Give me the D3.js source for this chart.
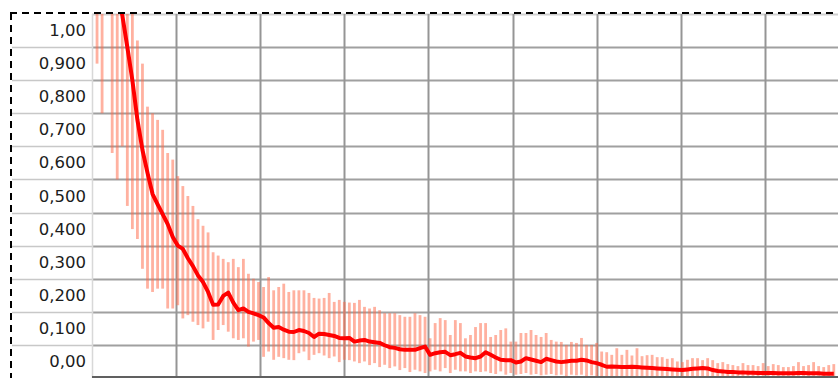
<!DOCTYPE html>
<html>
<head>
<meta charset="utf-8">
<script src="https://cdn.jsdelivr.net/npm/d3@7"></script>
<style>
html,body{margin:0;padding:0;background:#fff;overflow:hidden;}
svg{display:block;}
</style>
</head>
<body>
<svg id="chart" width="838" height="378"></svg>
<script>
// ---- data ----
const sampleStep = 0.06;
const meanValues = [
1.45,1.40,1.35,1.28,1.15,1.097,1.00,0.90,0.78,0.689,
0.62,0.556,0.525,0.495,0.465,0.426,0.40,0.39,0.362,0.338,
0.31,0.29,0.26,0.221,0.222,0.248,0.258,0.228,0.205,0.21,
0.20,0.195,0.19,0.183,0.166,0.152,0.154,0.146,0.14,0.139,
0.145,0.142,0.136,0.124,0.134,0.133,0.13,0.127,0.121,0.12,
0.121,0.11,0.113,0.115,0.11,0.108,0.106,0.099,0.093,0.091,
0.087,0.085,0.085,0.085,0.09,0.095,0.07,0.075,0.078,0.079,
0.069,0.072,0.076,0.065,0.062,0.06,0.065,0.078,0.07,0.062,
0.055,0.054,0.054,0.047,0.05,0.06,0.056,0.052,0.048,0.058,
0.054,0.05,0.048,0.05,0.052,0.052,0.055,0.053,0.048,0.045,
0.04,0.034,0.035,0.034,0.033,0.033,0.034,0.033,0.032,0.031,
0.03,0.029,0.028,0.027,0.026,0.025,0.024,0.026,0.028,0.029,
0.03,0.029,0.024,0.021,0.02,0.018,0.018,0.017,0.017,0.016,
0.016,0.015,0.015,0.015,0.015,0.014,0.014,0.014,0.014,0.015,
0.015,0.014,0.014,0.014,0.013,0.013,0.013
];
const upperValues = [
1.7,1.6,1.6,1.5,1.4,1.35,1.25,1.15,1.02,0.95,
0.82,0.80,0.78,0.75,0.68,0.66,0.61,0.58,0.55,0.52,
0.48,0.46,0.44,0.38,0.37,0.36,0.35,0.36,0.335,0.36,
0.315,0.30,0.29,0.275,0.305,0.265,0.275,0.285,0.26,0.265,
0.265,0.265,0.257,0.242,0.24,0.242,0.257,0.23,0.236,0.23,
0.228,0.227,0.236,0.215,0.21,0.215,0.205,0.196,0.196,0.196,
0.19,0.185,0.185,0.196,0.19,0.185,0.12,0.166,0.181,0.175,
0.13,0.175,0.166,0.12,0.13,0.154,0.166,0.166,0.124,0.13,
0.145,0.15,0.11,0.11,0.136,0.136,0.145,0.13,0.124,0.136,
0.115,0.11,0.109,0.10,0.109,0.106,0.121,0.10,0.10,0.106,
0.08,0.078,0.07,0.09,0.07,0.085,0.068,0.09,0.066,0.069,
0.07,0.063,0.063,0.058,0.06,0.05,0.048,0.055,0.06,0.06,
0.054,0.06,0.054,0.045,0.048,0.042,0.039,0.036,0.045,0.039,
0.039,0.036,0.045,0.036,0.042,0.039,0.033,0.033,0.036,0.048,
0.036,0.039,0.048,0.036,0.033,0.039,0.042
];
const lowerValues = [
0.95,0.80,1.13,0.68,0.60,0.70,0.52,0.45,0.42,0.33,
0.27,0.26,0.27,0.27,0.21,0.21,0.22,0.18,0.19,0.17,
0.16,0.15,0.17,0.115,0.145,0.16,0.14,0.12,0.115,0.12,
0.095,0.11,0.115,0.064,0.08,0.055,0.064,0.06,0.055,0.054,
0.075,0.08,0.054,0.07,0.075,0.068,0.06,0.065,0.048,0.055,
0.054,0.05,0.045,0.05,0.039,0.045,0.033,0.04,0.03,0.035,
0.024,0.03,0.018,0.025,0.02,0.015,0.02,0.025,0.02,0.03,
0.015,0.025,0.02,0.02,0.015,0.02,0.018,0.02,0.015,0.012,
0.02,0.01,0.015,0.01,0.012,0.015,0.01,0.012,0.008,0.01,
0.012,0.008,0.01,0.006,0.01,0.008,0.01,0.006,0.008,0.005,
0.006,0.004,0.005,0.004,0.005,0.004,0.004,0.003,0.004,0.003,
0.003,0.003,0.002,0.003,0.002,0.002,0.002,0.002,0.002,0.002,
0.002,0.002,0.002,0.002,0.001,0.001,0.001,0.001,0.001,0.001,
0.001,0.001,0.001,0.001,0.001,0.001,0.001,0.001,0.001,0.001,
0.001,0.001,0.001,0.001,0.001,0.001,0.001
];
const yTickValues = [1.0,0.9,0.8,0.7,0.6,0.5,0.4,0.3,0.2,0.1,0.0];
const yTickLabels = ["1,00","0,900","0,800","0,700","0,600","0,500","0,400","0,300","0,200","0,100","0,00"];
const xGridValues = [1,2,3,4,5,6,7,8];

// ---- layout ----
const W = 838, H = 378;
const outerLeft = 10, outerTop = 13;
const plotLeft = 92, plotTop = 14, plotBottom = 378, plotRight = 838;

const svg = d3.select("#chart");
const x = d3.scaleLinear().domain([0, 8.87]).range([plotLeft, plotRight]);
const y = d3.scaleLinear().domain([0, 1.1]).range([plotBottom, plotTop]);

const data = meanValues.map((m, i) => ({
  x: (i + 1) * sampleStep, m, hi: upperValues[i], lo: lowerValues[i]
}));

svg.append("defs").append("clipPath").attr("id", "plotclip")
  .append("rect").attr("x", plotLeft).attr("y", plotTop)
  .attr("width", plotRight - plotLeft).attr("height", plotBottom - plotTop);

// horizontal gridlines (across label column too)
const gridH = svg.append("g");
gridH.selectAll("line.lab").data(yTickValues.slice(0, 10)).join("line")
  .attr("x1", outerLeft + 2).attr("x2", plotLeft)
  .attr("y1", d => Math.round(y(d)) + 0.5).attr("y2", d => Math.round(y(d)) + 0.5)
  .attr("stroke", "#c8c8c8").attr("stroke-width", 1.5);
gridH.selectAll("line.plot").data(yTickValues.slice(0, 10).concat([1.1])).join("line")
  .attr("x1", plotLeft).attr("x2", plotRight)
  .attr("y1", d => Math.round(y(d)) + 0.5).attr("y2", d => Math.round(y(d)) + 0.5)
  .attr("stroke", d => d === 1.1 ? "#d0d0d0" : "#a0a0a0").attr("stroke-width", 1.8);

// vertical gridlines
svg.append("g").selectAll("line").data(xGridValues).join("line")
  .attr("x1", d => Math.round(x(d)) + 0.5).attr("x2", d => Math.round(x(d)) + 0.5)
  .attr("y1", plotTop).attr("y2", plotBottom)
  .attr("stroke", "#959595").attr("stroke-width", 2);

// plot left border
svg.append("line").attr("x1", plotLeft + 0.5).attr("x2", plotLeft + 0.5)
  .attr("y1", plotTop).attr("y2", plotBottom)
  .attr("stroke", "#d8d8d8").attr("stroke-width", 1.5);

const plot = svg.append("g").attr("clip-path", "url(#plotclip)");

// error bars
plot.append("g").selectAll("line").data(data).join("line")
  .attr("x1", d => x(d.x)).attr("x2", d => x(d.x))
  .attr("y1", d => y(d.lo)).attr("y2", d => y(d.hi))
  .attr("stroke", "#ff6a48").attr("stroke-opacity", 0.52).attr("stroke-width", 2.8);

// mean line
plot.append("path").datum(data)
  .attr("d", d3.line().x(d => x(d.x)).y(d => y(d.m)))
  .attr("fill", "none").attr("stroke", "#ff0000").attr("stroke-width", 4)
  .attr("stroke-linejoin", "round");

// bottom axis line
svg.append("line").attr("x1", plotLeft).attr("x2", plotRight)
  .attr("y1", 377).attr("y2", 377).attr("stroke", "#606060").attr("stroke-width", 2);

// y labels (centered in bands)
svg.append("g").selectAll("text").data(yTickValues).join("text")
  .attr("x", 86).attr("y", (d) => y(d + 0.05))
  .attr("text-anchor", "end").attr("dominant-baseline", "central")
  .attr("font-family", "DejaVu Sans, Verdana, sans-serif").attr("font-size", 16.5)
  .attr("fill", "#1c1c1c")
  .text((d, i) => yTickLabels[i]);

// dashed outer border
svg.append("line").attr("x1", outerLeft).attr("x2", W)
  .attr("y1", outerTop).attr("y2", outerTop)
  .attr("stroke", "#000").attr("stroke-width", 2).attr("stroke-dasharray", "7,5");
svg.append("line").attr("x1", outerLeft + 1).attr("x2", outerLeft + 1)
  .attr("y1", outerTop).attr("y2", H)
  .attr("stroke", "#000").attr("stroke-width", 2).attr("stroke-dasharray", "7,5");
</script>
</body>
</html>
